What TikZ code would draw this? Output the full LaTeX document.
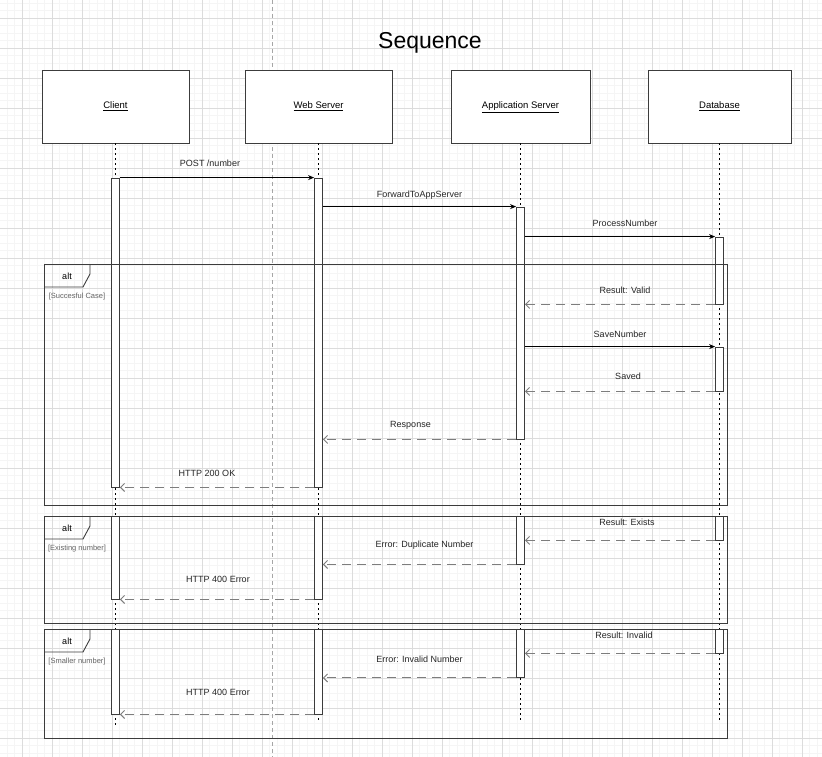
\documentclass[tikz,border=0pt]{standalone}
\usepackage{fontspec}
\setmainfont{Liberation Sans}
\usetikzlibrary{arrows.meta,positioning}
\definecolor{replygray}{RGB}{125,125,125}
\definecolor{framegray}{RGB}{60,60,60}
\definecolor{gridminor}{RGB}{245,245,245}
\definecolor{gridmajor}{RGB}{220,220,220}
\definecolor{guardgray}{RGB}{100,100,100}

\begin{document}
\begin{tikzpicture}[
    x = 1pt, y = -1pt,
    minorgrid/.style = {draw=gridminor, line width=0.5pt},
    majorgrid/.style = {draw=gridmajor, line width=0.6pt},
    pagebreak/.style = {draw=black!35, line width=0.6pt, dash pattern=on 4pt off 3pt},
    lifebox/.style = {draw=framegray, fill=white, line width=0.9pt, minimum height=73pt, inner sep=0pt,
        text height=7pt, text depth=3pt, font=\fontsize{9.5}{11}\selectfont},
    lifeline/.style = {draw=black, line width=1.5pt, dash pattern=on 1.5pt off 3.5pt},
    bar/.style = {draw=framegray, fill=white, line width=0.8pt, minimum width=8pt, inner sep=0pt},
    call/.style = {draw=black, line width=0.8pt, -{Stealth[length=6pt,width=5pt]}},
    reply/.style = {draw=replygray, line width=1pt, dash pattern=on 9pt off 6pt, -{Straight Barb[length=4pt,width=8pt]}},
    msg/.style = {inner sep=0pt, text=black!85, font=\fontsize{9}{11}\selectfont},
    frame/.style = {draw=framegray, line width=0.9pt},
    alttext/.style = {inner sep=0pt, font=\fontsize{9}{11}\selectfont},
    guard/.style = {inner sep=0pt, text=guardgray, font=\fontsize{7.5}{9}\selectfont}
]
    \useasboundingbox (0,0) rectangle (822,757);
    \fill[white] (0,0) rectangle (822,757);

    % background grid
    \foreach \i in {0,...,108}
        \draw[minorgrid] ({7+7.5*\i},0) -- ({7+7.5*\i},757);
    \foreach \i in {0,...,100}
        \draw[minorgrid] (0,{3+7.5*\i}) -- (822,{3+7.5*\i});
    \foreach \i in {0,...,26}
        \draw[majorgrid] ({22+30*\i},0) -- ({22+30*\i},757);
    \foreach \i in {0,...,24}
        \draw[majorgrid] (0,{18+30*\i}) -- (822,{18+30*\i});
    \draw[pagebreak] (272,0) -- (272,757);

    \node[anchor=base, inner sep=0pt, font=\fontsize{23}{28}\selectfont] (title) at (430,48.5) {Sequence};

    % participants
    \node[lifebox, minimum width=147pt] (client) at (115.5,106.5) {\underline{Client}};
    \node[lifebox, minimum width=147pt] (web) at (318.5,106.5) {\underline{Web Server}};
    \node[lifebox, minimum width=139pt] (app) at (520.5,106.5) {\underline{Application Server}};
    \node[lifebox, minimum width=143pt] (db) at (719.5,106.5) {\underline{Database}};

    \coordinate (clientend) at (115.5,728);
    \coordinate (webend) at (318.5,722);
    \coordinate (append) at (520.5,723);
    \coordinate (dbend) at (719.5,722);

    \draw[lifeline] (client.south) -- (clientend);
    \draw[lifeline] (web.south) -- (webend);
    \draw[lifeline] (app.south) -- (append);
    \draw[lifeline] (db.south) -- (dbend);

    % activations
    \node[bar, minimum height=309pt] (cb1) at (115.5,332.5) {};
    \node[bar, minimum height=309pt] (wb1) at (318.5,332.5) {};
    \node[bar, minimum height=232pt] (ab1) at (520.5,323) {};
    \node[bar, minimum height=67pt] (db1) at (719.5,270.5) {};
    \node[bar, minimum height=44pt] (db2) at (719.5,369) {};

    \node[bar, minimum height=83pt] (cb2) at (115.5,557.5) {};
    \node[bar, minimum height=83pt] (wb2) at (318.5,557.5) {};
    \node[bar, minimum height=48pt] (ab2) at (520.5,540) {};
    \node[bar, minimum height=24pt] (db3) at (719.5,528) {};

    \node[bar, minimum height=85pt] (cb3) at (115.5,671.5) {};
    \node[bar, minimum height=85pt] (wb3) at (318.5,671.5) {};
    \node[bar, minimum height=48.5pt] (ab3) at (520.5,653.25) {};
    \node[bar, minimum height=24pt] (db4) at (719.5,641) {};

    % messages
    \draw[call] (cb1.north east) -- node[msg, xshift=-7pt, yshift=14pt] {POST /number} (wb1.north west);
    \draw[call] (wb1.east |- ab1.north) -- node[msg, yshift=11pt] {ForwardToAppServer} (ab1.north west);
    \draw[call] (ab1.east |- db1.north) -- node[msg, xshift=5pt, yshift=13pt] {ProcessNumber} (db1.north west);
    \draw[reply] (db1.south west) -- node[msg, xshift=5pt, yshift=14pt] {Result: Valid} (ab1.east |- db1.south);
    \draw[call] (ab1.east |- db2.north) -- node[msg, yshift=12pt] {SaveNumber} (db2.north west);
    \draw[reply] (db2.south west) -- node[msg, xshift=8pt, yshift=15pt] {Saved} (ab1.east |- db2.south);
    \draw[reply] (ab1.south west) -- node[msg, xshift=-9pt, yshift=14pt] {Response} (wb1.east |- ab1.south);
    \draw[reply] (wb1.south west) -- node[msg, xshift=-10pt, yshift=14pt] {HTTP 200 OK} (cb1.south east);

    \draw[reply] (db3.south west) -- node[msg, xshift=7pt, yshift=18pt] {Result: Exists} (ab2.east |- db3.south);
    \draw[reply] (ab2.south west) -- node[msg, xshift=5pt, yshift=19pt] {Error: Duplicate Number} (wb2.east |- ab2.south);
    \draw[reply] (wb2.south west) -- node[msg, xshift=1pt, yshift=20pt] {HTTP 400 Error} (cb2.south east);

    \draw[reply] (db4.south west) -- node[msg, xshift=4pt, yshift=18pt] {Result: Invalid} (ab3.east |- db4.south);
    \draw[reply] (ab3.south west) -- node[msg, yshift=19pt] {Error: Invalid Number} (wb3.east |- ab3.south);
    \draw[reply] (wb3.south west) -- node[msg, xshift=1pt, yshift=22pt] {HTTP 400 Error} (cb3.south east);

    % alt fragments
    \foreach \t/\b/\g/\n in {264/505/Succesful Case/1, 516/623/Existing number/2, 629/738/Smaller number/3} {
        \draw[frame] (44,\t) rectangle (727,\b);
        \draw[frame] (44,\t+23) -- (83,\t+23) -- (90,\t+10) -- (90,\t);
        \node[alttext] (alt\n) at (67,\t+12) {alt};
        \node[guard] (guard\n) at (77,\t+33) {[\g]};
    }
\end{tikzpicture}
\end{document}
